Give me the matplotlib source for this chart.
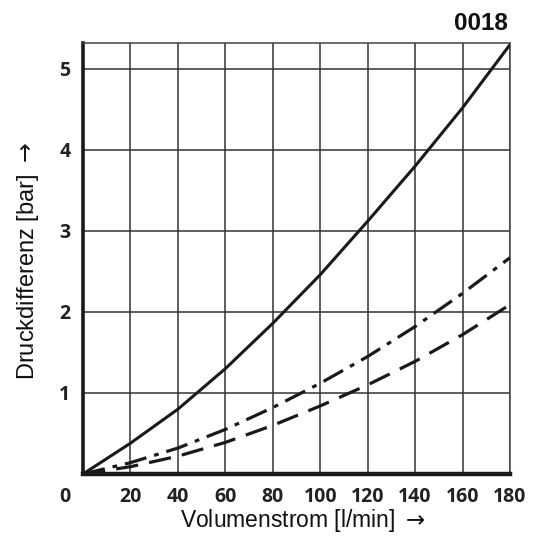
import numpy as np
import matplotlib
matplotlib.use('Agg')
from matplotlib import pyplot as plt
from matplotlib import transforms

# Volumenstrom in l/min and Druckdifferenz in bar for the three curves
flow = [0, 20, 40, 60, 80, 100, 120, 140, 160, 180]
dp_solid = [0, 0.38, 0.80, 1.30, 1.86, 2.46, 3.12, 3.80, 4.52, 5.30]
dp_dashdot = [0, 0.14, 0.32, 0.55, 0.82, 1.12, 1.45, 1.82, 2.23, 2.67]
dp_dashed = [0, 0.09, 0.22, 0.39, 0.60, 0.84, 1.10, 1.39, 1.72, 2.09]

x_ticks = [20, 40, 60, 80, 100, 120, 140, 160, 180]
y_ticks = [1, 2, 3, 4, 5]

plt.rcParams['mathtext.fontset'] = 'dejavusans'

fig = plt.figure(figsize=(5.33, 5.45), dpi=100)
ax = fig.add_axes([83 / 533, 71 / 545, 427 / 533, 431 / 545])

ink = '#1a1a1a'
grid_col = '#333333'
tick_font = dict(fontfamily='Open Sans', fontweight='bold', fontsize=14, color='#222222')

ax.plot(flow, dp_solid, color=ink, lw=2.2, solid_capstyle='butt', zorder=3)
ax.plot(flow, dp_dashdot, color=ink, lw=2.3, dashes=(7, 2.5, 1.5, 2.5), zorder=3)
ax.plot(flow, dp_dashed, color=ink, lw=2.3, dashes=(7, 3.5), zorder=3)

ax.set_xlim(0, 180)
ax.set_ylim(0, 5.32)
ax.set_xticks(x_ticks)
ax.set_yticks(y_ticks)
ax.set_xticklabels([str(v) for v in x_ticks])
ax.set_yticklabels([str(v) for v in y_ticks])
ax.tick_params(length=0, pad=9)
ax.tick_params(axis='x', pad=9)
for lab in ax.get_xticklabels() + ax.get_yticklabels():
    lab.set(**tick_font)

# origin label sits left of the corner
off = transforms.offset_copy(ax.transAxes, fig=fig, x=-18, y=-23, units='dots')
ax.text(0, 0, '0', transform=off, ha='center', va='center', **tick_font)

ax.grid(True, color=grid_col, lw=1.1)
ax.set_axisbelow(True)

ax.spines['left'].set_linewidth(2.6)
ax.spines['bottom'].set_linewidth(3.2)
ax.spines['left'].set_color(ink)
ax.spines['bottom'].set_color(ink)
ax.spines['top'].set_linewidth(1.1)
ax.spines['right'].set_linewidth(1.1)
ax.spines['top'].set_color('#444444')
ax.spines['right'].set_color('#444444')

ax.set_xlabel(r'Volumenstrom [l/min] ${\rightarrow}$', fontfamily='Liberation Sans',
              fontsize=16.5, color='#111111')
ax.set_ylabel(r'Druckdifferenz [bar] ${\rightarrow}$', fontfamily='Liberation Sans',
              fontsize=17, color='#111111')
ax.xaxis.set_label_coords(0.515, -0.109)
ax.xaxis.label.set_va('center')
ax.yaxis.set_label_coords(-0.129, 0.494)
ax.yaxis.label.set_va('center')

fig.text(508 / 533, 1 - 23 / 545, '0018', ha='right', va='center',
         fontfamily='Liberation Sans', fontweight='bold', fontsize=17.5, color='#111111')

fig.savefig('out.png', dpi=100)
